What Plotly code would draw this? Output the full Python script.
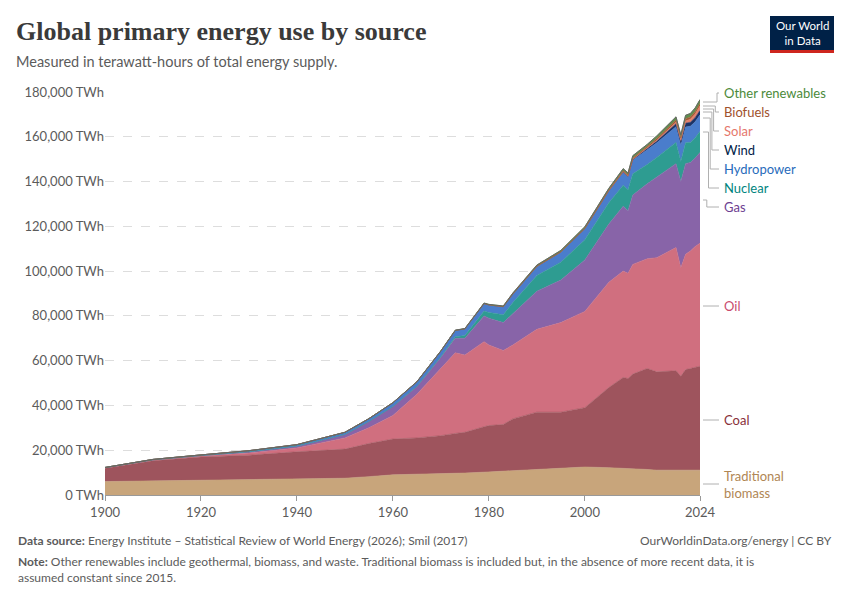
import plotly.graph_objects as go

years = [1900,1910,1920,1930,1940,1950,1955,1960,1965,1970,1973,1975,1979,1980,1983,1985,1990,1995,2000,2005,2008,2009,2010,2013,2015,2019,2020,2021,2022,2023,2024]
traditional = [6000,6300,6700,7000,7200,7500,8200,9000,9300,9500,9700,9800,10200,10300,10600,10800,11500,12000,12500,12200,12000,11900,11800,11400,11100,11100,11100,11100,11100,11100,11100]
coal = [6000,9000,10300,10800,12100,13000,14800,16000,16200,17000,17800,18200,20300,20700,20900,23200,25500,25000,26500,35800,40500,40100,42200,45100,43900,44400,41900,44900,45400,45900,46400]
oil = [100,300,400,1000,1700,5000,7000,10500,19500,30000,36000,34500,38000,36000,33000,33000,37000,40000,43000,47000,47500,47000,49000,49000,51000,55000,48500,51500,52500,54000,55000]
gas = [100,100,200,500,800,1500,2800,4000,3500,5000,6500,7500,11500,12000,12500,14000,17000,19000,23000,26000,29000,28000,31000,33500,36000,37500,38500,40500,39500,39500,40500]
nuclear = [0,0,0,0,0,0,0,0,50,300,700,1200,2200,2500,3500,5000,7000,8000,9000,9500,9400,9300,9500,8600,8800,9500,9000,9300,9000,9100,9400]
hydro = [100,200,300,500,700,1000,1300,1700,2000,2500,2800,3000,3300,3400,3600,3800,4100,4500,4900,5300,5700,5700,6000,6400,6500,7000,7200,7100,7200,7100,7400]
wind = [0,0,0,0,0,0,0,0,0,0,0,0,0,0,0,0,5,30,80,120,250,320,400,650,850,1300,1450,1650,1800,1900,2000]
solar = [0,0,0,0,0,0,0,0,0,0,0,0,0,0,0,0,0,0,2,5,15,25,50,150,250,700,850,1050,1300,1600,2000]
biofuels = [0,0,0,0,0,0,0,0,0,0,0,0,0,0,0,20,100,120,130,250,500,550,600,700,800,1000,950,1000,1050,1100,1150]
other = [0,0,0,0,0,0,20,50,80,100,120,150,230,250,330,400,500,600,700,800,900,950,1000,1100,1200,1400,1450,1500,1550,1600,1650]

series = [
    ("Traditional biomass", traditional, "#c8a57b", "#b08654"),
    ("Coal", coal, "#9e545d", "#883039"),
    ("Oil", oil, "#d06f7f", "#c94b6d"),
    ("Gas", gas, "#8864a8", "#6d3e91"),
    ("Nuclear", nuclear, "#2e9c91", "#00847e"),
    ("Hydropower", hydro, "#4a7dcc", "#286bbb"),
    ("Wind", wind, "#1c3366", "#002147"),
    ("Solar", solar, "#e4806b", "#e5776b"),
    ("Biofuels", biofuels, "#a65a35", "#a0512d"),
    ("Other renewables", other, "#5e8f4e", "#4b8a3a"),
]

fig = go.Figure()
for name, vals, fc, lc in series:
    fig.add_trace(go.Scatter(x=years, y=vals, name=name, stackgroup="one", mode="lines",
                             line=dict(width=0.6, color=fc), fillcolor=fc))
fig.add_trace(go.Scatter(x=years, y=[sum(v) for v in zip(*[s[1] for s in series])], mode="lines",
                         line=dict(width=1, color="#666666"), hoverinfo="skip", showlegend=False))

OFF = 8  # page body margin
W, H = 850, 600
L, R, T, B = 105 - OFF, 150 + OFF, 92 - OFF, 105 + OFF
pw, ph = W - L - R, H - T - B
def px(x): return (x - OFF - L) / pw
def py(y): return (H - B - (y - OFF)) / ph

labels = [("Other renewables", 93, 102), ("Biofuels", 112, 106), ("Solar", 131, 109),
          ("Wind", 150, 112), ("Hydropower", 169, 118), ("Nuclear", 188, 132),
          ("Gas", 207, 200), ("Oil", 306, 306), ("Coal", 420, 420), ("Traditional<br>biomass", 484, 484)]
colors = {s[0]: s[3] for s in series}
for i, (txt, ly, sy) in enumerate(labels):
    key = txt.replace("<br>", " ")
    fig.add_annotation(x=px(722), y=py(ly), xref="paper", yref="paper", text=txt, showarrow=False,
                       xanchor="left", yanchor="middle", align="left",
                       font=dict(family="Lato", size=13, color=colors[key]))
    xm = 717 - i * 1.7 if i < 7 else 710
    fig.add_shape(type="path", xref="paper", yref="paper",
                  path=f"M {px(703)} {py(sy)} L {px(xm)} {py(sy)} L {px(xm)} {py(ly)} L {px(719)} {py(ly)}",
                  line=dict(color="#b0b0b0", width=1))

fig.update_layout(
    width=W, height=H, margin=dict(l=L, r=R, t=T, b=B, autoexpand=False),
    paper_bgcolor="white", plot_bgcolor="white", showlegend=False,
    font=dict(family="Lato", color="#5b5b5b"),
    xaxis=dict(range=[1900, 2024], tickvals=[1900,1920,1940,1960,1980,2000,2024], showgrid=False,
               ticks="outside", ticklen=5, tickcolor="#999", showline=True, linecolor="#999",
               tickfont=dict(size=13, color="#5b5b5b"), zeroline=False, automargin=False),
    yaxis=dict(range=[0, 180000], tickvals=list(range(0, 180001, 20000)),
               ticktext=[("{:,} TWh".format(v) if v else "0 TWh") for v in range(0, 180001, 20000)],
               showgrid=True, gridcolor="#dddddd", griddash="dash", zeroline=False, automargin=False,
               tickfont=dict(size=13, color="#5b5b5b")),
)

def fa(x, y, text, size, color="#5b5b5b", family="Lato", xanchor="left", align="left"):
    fig.add_annotation(x=px(x), y=py(y), xref="paper", yref="paper", yanchor="middle", xanchor=xanchor,
                       showarrow=False, align=align, text=text, font=dict(family=family, size=size, color=color))

fa(14, 32, "<b>Global primary energy use by source</b>", 26, "#3a3a3a", "Liberation Serif")
fa(14, 61, "Measured in terawatt-hours of total energy supply.", 14.5)
fig.add_shape(type="rect", xref="paper", yref="paper", x0=px(770), x1=px(834), y0=py(16), y1=py(50),
              fillcolor="#002147", line=dict(width=0))
fig.add_shape(type="rect", xref="paper", yref="paper", x0=px(770), x1=px(834), y0=py(50), y1=py(53),
              fillcolor="#ce261e", line=dict(width=0))
fa(802, 33, "Our World<br>in Data", 11.5, "white", xanchor="center", align="center")
fa(16, 540, "<b>Data source:</b> Energy Institute – Statistical Review of World Energy (2026); Smil (2017)", 12)
fa(834, 540, "OurWorldinData.org/energy | CC BY", 12, xanchor="right", align="right")
fa(16, 569, "<b>Note:</b> Other renewables include geothermal, biomass, and waste. Traditional biomass is included but, in the absence of more recent data, it is<br>assumed constant since 2015.", 12)

fig.write_html("out.html")
